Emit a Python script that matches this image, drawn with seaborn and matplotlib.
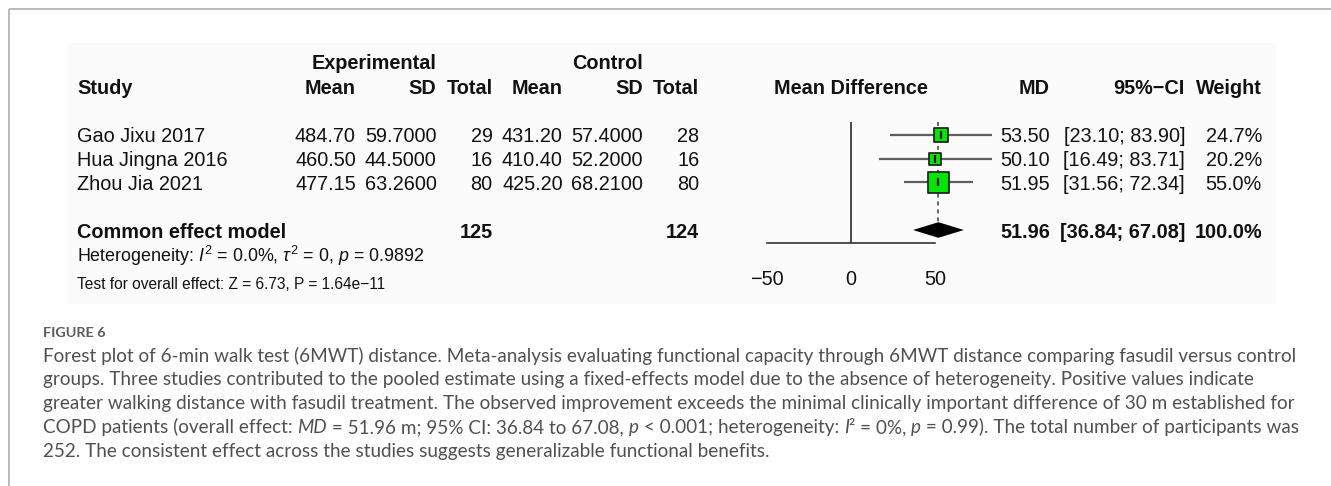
import numpy as np
import pandas as pd
import matplotlib
matplotlib.use("Agg")
import matplotlib.pyplot as plt
import seaborn as sns
from matplotlib.patches import Rectangle

# ---- study data -------------------------------------------------------
studies = ["Gao Jixu 2017", "Hua Jingna 2016", "Zhou Jia 2021"]
exp_mean = [484.70, 460.50, 477.15]
exp_sd = [59.7000, 44.5000, 63.2600]
exp_n = [29, 16, 80]
ctl_mean = [431.20, 410.40, 425.20]
ctl_sd = [57.4000, 52.2000, 68.2100]
ctl_n = [28, 16, 80]
md = [53.50, 50.10, 51.95]
ci_lo = [23.10, 16.49, 31.56]
ci_hi = [83.90, 83.71, 72.34]
weight = [24.7, 20.2, 55.0]

pooled_label = "Common effect model"
pooled_md = 51.96
pooled_lo = 36.84
pooled_hi = 67.08
pooled_weight = 100.0
total_exp = 125
total_ctl = 124

het_i2 = 0.0
het_tau2 = 0
het_p = 0.9892
test_z = 6.73
test_p = "1.64e\u221211"

x_ticks = [-50, 0, 50]

caption_title = "FIGURE 6"
# each caption line is a list of (text, italic) pieces
caption_lines = [
    [("Forest plot of 6-min walk test (6MWT) distance. Meta-analysis evaluating functional capacity through 6MWT distance comparing fasudil versus control", False)],
    [("groups. Three studies contributed to the pooled estimate using a fixed-effects model due to the absence of heterogeneity. Positive values indicate", False)],
    [("greater walking distance with fasudil treatment. The observed improvement exceeds the minimal clinically important difference of 30 m established for", False)],
    [("COPD patients (overall effect: ", False), ("MD", True), (" = 51.96 m; 95% CI: 36.84 to 67.08, ", False), ("p", True),
     (" < 0.001; heterogeneity: ", False), ("I", True), ("\u00b2 = 0%, ", False), ("p", True),
     (" = 0.99). The total number of participants was", False)],
    [("252. The consistent effect across the studies suggests generalizable functional benefits.", False)],
]

# ---- style ------------------------------------------------------------
sns.set_style("white")
plt.rcParams["font.family"] = ["Liberation Sans", "DejaVu Sans"]
plt.rcParams["mathtext.fontset"] = "custom"
plt.rcParams["mathtext.rm"] = "Liberation Sans"
plt.rcParams["mathtext.it"] = "Liberation Sans:italic"
plt.rcParams["mathtext.bf"] = "Liberation Sans:bold"
plt.rcParams["axes.unicode_minus"] = True

W, H, DPI = 1331, 486, 100
fig = plt.figure(figsize=(W / DPI, H / DPI), dpi=DPI)
fig.patch.set_facecolor("white")

# pixel-space layer for the text table and frame
canvas = fig.add_axes([0, 0, 1, 1])
canvas.set_xlim(0, W)
canvas.set_ylim(H, 0)
canvas.axis("off")

frame_col = "#b4b4b4"
canvas.plot([9, W], [9, 9], color=frame_col, lw=1.3, solid_capstyle="butt")
canvas.plot([9, 9], [9, H], color=frame_col, lw=1.3, solid_capstyle="butt")
canvas.add_patch(Rectangle((67, 43), 1276 - 67, 304 - 43, facecolor="#fbfbfb", edgecolor="none"))

# ---- forest panel geometry ---------------------------------------------
PX0, PXU = 851.0, 1.682          # pixel of MD = 0, pixels per MD unit
ROW0_PX, ROW_STEP = 135.0, 23.75  # pixel of first study row, row spacing
XLIM = (-55, 90)
AX_TOP, AX_BOT = 110, 262


def row_of(py):
    return 1 + (py - ROW0_PX) / ROW_STEP


def px_of(row):
    return ROW0_PX + (row - 1) * ROW_STEP


study_rows = [1, 2, 3]
pooled_row = 5
axis_row = row_of(242.7)
top_row = row_of(121.7)
half_diamond = 7.8 / ROW_STEP

ax = fig.add_axes([
    (PX0 + XLIM[0] * PXU) / W,
    1 - AX_BOT / H,
    (XLIM[1] - XLIM[0]) * PXU / W,
    (AX_BOT - AX_TOP) / H,
])
ax.set_xlim(*XLIM)
ax.set_ylim(row_of(AX_BOT), row_of(AX_TOP))
ax.patch.set_alpha(0)

# confidence intervals
ax.hlines(study_rows, ci_lo, ci_hi, color="#5e5e5e", lw=1.6, zorder=2)
# line of no effect
ax.vlines(0, top_row, axis_row, color="#3a3a3a", lw=1.3, zorder=1)
# pooled estimate reference
ax.vlines(pooled_md, top_row, pooled_row - half_diamond, color="#3a3a3a",
          lw=1.1, linestyles=(0, (2.6, 2.6)), zorder=1)

# weighted squares (area proportional to weight)
df = pd.DataFrame({"md": md, "row": study_rows, "weight": weight})
side_max_pt = 20.5 * 72 / DPI
sns.scatterplot(data=df, x="md", y="row", size="weight",
                sizes=(0, side_max_pt ** 2), size_norm=(0, max(weight)),
                marker="s", color="#00e400", edgecolor="#1e1e1e", linewidth=1.25,
                legend=False, ax=ax, zorder=3)
ax.scatter(md, study_rows, marker="|", s=26, color="#111111", linewidths=1.6, zorder=4)

# pooled diamond
ax.fill([pooled_lo, pooled_md, pooled_hi, pooled_md],
        [pooled_row, pooled_row - half_diamond, pooled_row, pooled_row + half_diamond],
        color="black", zorder=3, lw=0)

# axis
for side in ["top", "left", "right"]:
    ax.spines[side].set_visible(False)
ax.spines["bottom"].set_position(("data", axis_row))
ax.spines["bottom"].set_bounds(x_ticks[0], x_ticks[-1])
ax.spines["bottom"].set_color("#333333")
ax.spines["bottom"].set_linewidth(1.2)
ax.set_xticks(x_ticks)
ax.set_xticklabels([f"{t}".replace("-", "\u2212") for t in x_ticks])
ax.set_yticks([])
ax.tick_params(axis="x", direction="out", length=8.1, width=1.2, color="#333333",
               pad=11.5, labelsize=14.3, labelcolor="#111111")
ax.set_xlabel("")
ax.set_ylabel("")

# ---- text table -------------------------------------------------------
FS = 14.3
TXT = "#111111"
col = dict(study=77, e_mean=355.8, e_sd=436.6, e_tot=492.5, c_mean=562.7,
           c_sd=642.7, c_tot=699.3, md=1050, ci=1185, w=1262)


def T(x, y, s, ha="right", bold=False, size=FS, **kw):
    canvas.text(x, y, s, ha=ha, va="baseline", fontsize=size,
                fontweight="bold" if bold else "normal", color=TXT, **kw)


# headers
T(col["e_sd"], 69, "Experimental", bold=True)
T(col["c_sd"], 69, "Control", bold=True)
hy = 93.8
T(col["study"], hy, "Study", ha="left", bold=True)
for key, lab in [("e_mean", "Mean"), ("e_sd", "SD"), ("e_tot", "Total"),
                 ("c_mean", "Mean"), ("c_sd", "SD"), ("c_tot", "Total"),
                 ("md", "MD"), ("ci", "95%\u2212CI"), ("w", "Weight")]:
    T(col[key], hy, lab, bold=True)
T(PX0, hy, "Mean Difference", ha="center", bold=True)

# study rows
for i, r in enumerate(study_rows):
    y = px_of(r) + 7.2
    T(col["study"], y, studies[i], ha="left")
    T(col["e_mean"], y, f"{exp_mean[i]:.2f}")
    T(col["e_sd"], y, f"{exp_sd[i]:.4f}")
    T(col["e_tot"], y, f"{exp_n[i]}")
    T(col["c_mean"], y, f"{ctl_mean[i]:.2f}")
    T(col["c_sd"], y, f"{ctl_sd[i]:.4f}")
    T(col["c_tot"], y, f"{ctl_n[i]}")
    T(col["md"], y, f"{md[i]:.2f}")
    T(col["ci"], y, f"[{ci_lo[i]:.2f}; {ci_hi[i]:.2f}]")
    T(col["w"], y, f"{weight[i]:.1f}%")

# pooled row
y = px_of(pooled_row) + 8.2
T(col["study"], y, pooled_label, ha="left", bold=True)
T(col["e_tot"], y, f"{total_exp}", bold=True)
T(col["c_tot"], y, f"{total_ctl}", bold=True)
T(col["md"], y, f"{pooled_md:.2f}", bold=True)
T(col["ci"], y, f"[{pooled_lo:.2f}; {pooled_hi:.2f}]", bold=True)
T(col["w"], y, f"{pooled_weight:.1f}%", bold=True)

T(col["study"], 261.7,
  rf"Heterogeneity: $I^2$ = {het_i2:.1f}%, $\tau^2$ = {het_tau2}, $p$ = {het_p:.4f}",
  ha="left", size=12.9)
T(col["study"], 289, f"Test for overall effect: Z = {test_z:.2f}, P = {test_p}",
  ha="left", size=11.2)

# ---- caption ----------------------------------------------------------
CAP_FONT = ["Lato", "DejaVu Sans"]
CAP_COL = "#505050"
renderer = fig.canvas.get_renderer()

title = canvas.text(43, 336.5, caption_title, ha="left", va="baseline",
                    family=CAP_FONT, fontweight="bold", fontsize=11, color="#5c5c5c")
tw = title.get_window_extent(renderer).width
title.set_fontsize(11 * 63.0 / tw)

probe = canvas.text(43, 361.5, caption_lines[0][0][0], ha="left", va="baseline",
                    family=CAP_FONT, fontsize=13, color=CAP_COL)
cap_fs = 13 * (1292 - 43) / probe.get_window_extent(renderer).width
probe.remove()

baselines = [361.5, 385.3, 409.2, 433.0, 456.8]
for pieces, yb in zip(caption_lines, baselines):
    prev = None
    for text, italic in pieces:
        style = "italic" if italic else "normal"
        if prev is None:
            prev = canvas.text(43, yb, text, ha="left", va="baseline", family=CAP_FONT,
                               fontsize=cap_fs, style=style, color=CAP_COL)
        else:
            prev = canvas.annotate(text, xy=(1, 0), xycoords=prev, ha="left", va="bottom",
                                   family=CAP_FONT, fontsize=cap_fs, style=style,
                                   color=CAP_COL)

fig.savefig("out.png", dpi=DPI, facecolor="white")
